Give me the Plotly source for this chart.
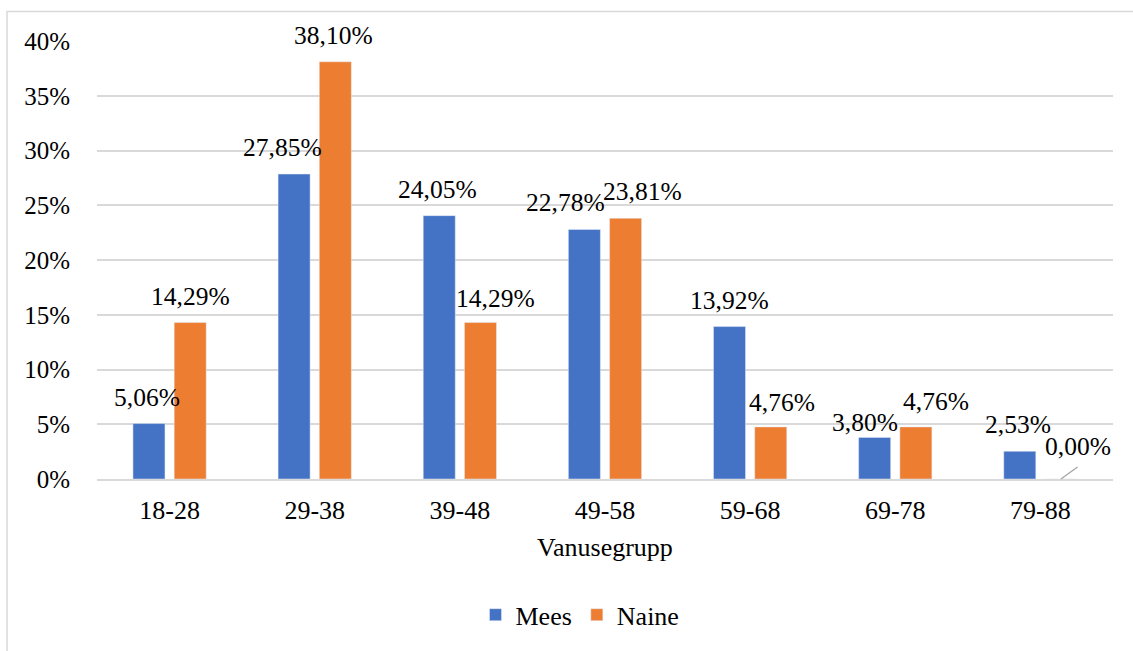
import plotly.graph_objects as go

categories = ["18-28", "29-38", "39-48", "49-58", "59-68", "69-78", "79-88"]
mees = [5.06, 27.85, 24.05, 22.78, 13.92, 3.80, 2.53]
naine = [14.29, 38.10, 14.29, 23.81, 4.76, 4.76, 0.00]
y_ticks = [0, 5, 10, 15, 20, 25, 30, 35, 40]
y_tick_labels = [f"{t}%" for t in y_ticks]

FONT = "Liberation Serif, Times New Roman, serif"
BLUE = "#4472C4"
ORANGE = "#ED7D31"
GRID = "#D9D9D9"

W, H = 1133, 651
ML, MR, MT, MB = 97, 20, 41, 172

# label nudges (pixels, dx right / dy up) mimicking Excel's collision avoidance
nudge_mees = {"18-28": (-1.5, 0), "29-38": (-12, 0), "39-48": (-2, 0), "49-58": (-19, 1),
              "69-78": (-10, -11.5), "79-88": (-1.5, 0)}
nudge_naine = {"29-38": (-2, 0), "39-48": (15, -2), "49-58": (17, 0), "59-68": (11.5, -2),
               "69-78": (20, -1.3)}

fig = go.Figure()
fig.add_trace(go.Bar(name="Mees", x=categories, y=mees, marker_color=BLUE))
fig.add_trace(go.Bar(name="Naine", x=categories, y=naine, marker_color=ORANGE))

def fmt(v):
    return f"{v:.2f}%".replace(".", ",")

annotations = []
for series, shift, nudges in ((mees, -20.6, nudge_mees), (naine, 20.6, nudge_naine)):
    for c, v in zip(categories, series):
        dx, dy = nudges.get(c, (0, 0))
        if v == 0:
            annotations.append(dict(x=c, y=v, text=fmt(v), showarrow=False,
                                    xshift=shift + 17, yshift=16, yanchor="bottom",
                                    font=dict(family=FONT, size=25.5, color="#000000")))
            annotations.append(dict(x=c, y=v, text="", showarrow=True, arrowhead=0,
                                    arrowwidth=1.3, arrowcolor="#A5A5A5",
                                    ax=18, ay=-13, xshift=shift, standoff=0, startstandoff=0))
        else:
            annotations.append(dict(x=c, y=v, text=fmt(v), showarrow=False,
                                    xshift=shift + dx, yshift=10 + dy, yanchor="bottom",
                                    font=dict(family=FONT, size=25.5, color="#000000")))

pw = W - ML - MR
ph = H - MT - MB
shapes = [dict(type="rect", xref="paper", yref="paper",
               x0=(7 - ML) / pw, x1=(W + 20 - ML) / pw,
               y0=-(H + 20 - MT - ph) / ph, y1=(H - MB - 11.5) / ph,
               line=dict(color=GRID, width=1.5), fillcolor="rgba(0,0,0,0)", layer="below")]

fig.update_layout(
    width=W, height=H,
    margin=dict(l=ML, r=MR, t=MT, b=MB, pad=0),
    paper_bgcolor="white", plot_bgcolor="white",
    barmode="group", bargap=0.432, bargroupgap=0.223,
    font=dict(family=FONT, size=26, color="#000000"),
    showlegend=True,
    legend=dict(orientation="h", x=0.5 - 25 / pw, xanchor="center", y=-0.31, yanchor="middle",
                font=dict(family=FONT, size=26), itemwidth=30, traceorder="normal"),
    annotations=annotations,
    shapes=shapes,
)
fig.update_yaxes(range=[0, 40], tickvals=y_ticks, ticktext=y_tick_labels,
                 showgrid=True, gridcolor=GRID, gridwidth=1.5,
                 zeroline=False, showline=False, ticks="",
                 ticklabelstandoff=26, tickfont=dict(family=FONT, size=25))
fig.update_xaxes(showline=True, linecolor=GRID, linewidth=1.5, ticks="",
                 ticklabelstandoff=7, tickfont=dict(family=FONT, size=26),
                 title=dict(text="Vanusegrupp", font=dict(family=FONT, size=26), standoff=14))

fig.write_html("out.html", config={"displayModeBar": False},
               post_script="document.body.style.margin='0';")
